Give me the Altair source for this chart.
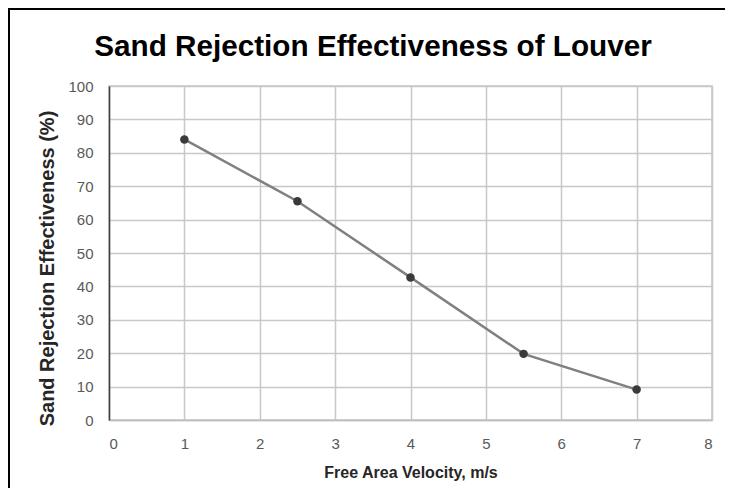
import altair as alt
import pandas as pd

velocity = [1, 2.5, 4, 5.5, 7]
effectiveness = [84, 65.5, 42.7, 19.8, 9.1]
x_ticks = [0, 1, 2, 3, 4, 5, 6, 7, 8]
y_ticks = [0, 10, 20, 30, 40, 50, 60, 70, 80, 90, 100]
chart_title = "Sand Rejection Effectiveness of Louver"

df = pd.DataFrame({"v": velocity, "e": effectiveness})
title_df = pd.DataFrame({"t": [chart_title]})
one = pd.DataFrame({"k": [0]})

FONT = "Liberation Sans"
W, H = 603, 334

x = alt.X("v:Q", scale=alt.Scale(domain=[0, 8], nice=False),
          axis=alt.Axis(values=x_ticks, format="d", title="Free Area Velocity, m/s",
                        titleFontSize=16, titleFontWeight="bold", titleColor="#262626",
                        titleFont=FONT, titleY=52, titleBaseline="middle",
                        labelFontSize=15, labelColor="#595959", labelFont=FONT,
                        labelPadding=16, ticks=False, domainColor="#bfbfbf",
                        domainWidth=1.5, gridColor="#c8c8c8", gridWidth=1.5))
y = alt.Y("e:Q", scale=alt.Scale(domain=[0, 100], nice=False),
          axis=alt.Axis(values=y_ticks, format="d", title="Sand Rejection Effectiveness  (%)",
                        titleFontSize=20, titleFontWeight="bold", titleColor="#262626",
                        titleFont=FONT, titleX=-62, titleY=182, titleBaseline="middle",
                        labelFontSize=15, labelColor="#595959", labelFont=FONT,
                        labelPadding=16, ticks=False, domainColor="#404040",
                        domainWidth=1.5, gridColor="#c8c8c8", gridWidth=1.5))

line = alt.Chart(df).mark_line(color="#808080", strokeWidth=2.5).encode(x=x, y=y)
pts = alt.Chart(df).mark_circle(color="#3a3a3a", size=72, opacity=1).encode(x=x, y=y)

top_border = alt.Chart(one).mark_rule(color="black", strokeWidth=2, clip=False).encode(
    x=alt.value(-101), x2=alt.value(W + 13), y=alt.value(-77))
left_border = alt.Chart(one).mark_rule(color="black", strokeWidth=2, clip=False).encode(
    x=alt.value(-100), y=alt.value(-78), y2=alt.value(H + 68))

title = alt.Chart(title_df).mark_text(font=FONT, fontSize=29.7, fontWeight="bold",
                                      color="#000000", align="center",
                                      baseline="alphabetic").encode(
    text="t:N", x=alt.value(373 - 109), y=alt.value(56 - 86))

chart = alt.layer(top_border, left_border, line, pts, title).properties(
    width=W, height=H,
    autosize=alt.AutoSizeParams(type="none"),
    padding={"left": 101, "top": 78, "right": 13, "bottom": 68},
).configure_view(stroke="#c8c8c8", strokeWidth=1.5)

chart.save("out.html", embed_options={"renderer": "svg", "actions": False})
